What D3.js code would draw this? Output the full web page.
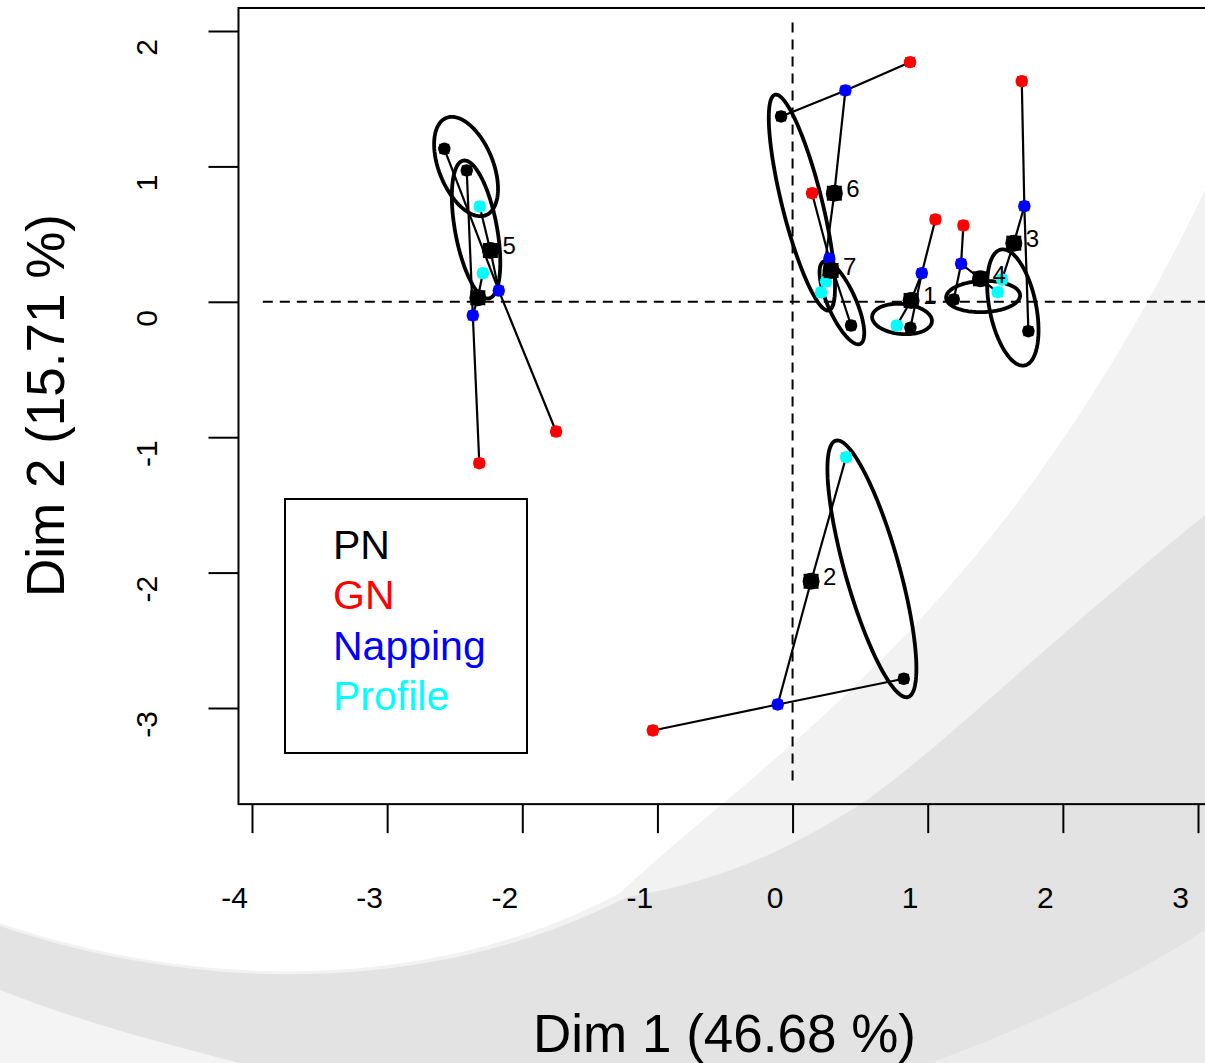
<!DOCTYPE html>
<html>
<head>
<meta charset="UTF-8">
<title>HMFA: partial individuals</title>
<script src="https://cdn.jsdelivr.net/npm/d3@7"></script>
<style>
  body { margin: 0; background: #fff; }
  svg { display: block; font-family: "Liberation Sans", Arial, sans-serif; }
</style>
</head>
<body>
<svg id="chart" width="1205" height="1063"></svg>
<script>
// individuals: mean point and the four partial points (PN, GN, Napping, Profile)
var labels = ["1", "2", "3", "4", "5", "6", "7", ""]
var meanX = [0.877, 0.137, 1.637, 1.390, -2.236, 0.309, 0.285, -2.329]
var meanY = [0.010, -2.064, 0.433, 0.170, 0.379, 0.802, 0.231, 0.030]
var pnX = [0.872, 0.823, 1.745, 1.193, -2.577, -0.085, 0.433, -2.411]
var pnY = [-0.192, -2.784, -0.217, 0.017, 1.130, 1.369, -0.175, 0.970]
var gnX = [1.057, -1.034, 1.696, 1.264, -1.750, 0.869, 0.144, -2.318]
var gnY = [0.608, -3.166, 1.629, 0.564, -0.958, 1.770, 0.802, -1.192]
var napX = [0.956, -0.110, 1.715, 1.247, -2.174, 0.391, 0.272, -2.366]
var napY = [0.211, -2.974, 0.706, 0.281, 0.083, 1.561, 0.318, -0.101]
var proX = [0.771, 0.396, 1.550, 1.518, -2.315, 0.211, 0.248, -2.292]
var proY = [-0.175, -1.148, 0.165, 0.071, 0.704, 0.069, 0.150, 0.211]

// ellipses: centre, semi axes (data units), angle in degrees
var ellCx = [0.810, 0.587, 1.630, 1.410, -2.342, 0.069, 0.365, -2.416]
var ellCy = [-0.127, -1.972, -0.042, 0.039, 0.534, 0.733, -0.007, 0.999]
var ellA = [0.222, 0.984, 0.437, 0.274, 0.518, 0.821, 0.333, 0.388]
var ellB = [0.111, 0.200, 0.172, 0.115, 0.155, 0.148, 0.104, 0.200]
var ellAngle = [-5, -74.25, -78.4, 2, -79.5, -76, -66, -67.7]

var groups = ["PN", "GN", "Napping", "Profile"]
var groupColors = ["#000000", "#FF0000", "#0000FF", "#00FFFF"]

var xTicks = [-4, -3, -2, -1, 0, 1, 2, 3]
var yTicks = [-3, -2, -1, 0, 1, 2]
var boxX = [-4.1, 3.1]
var boxY = [-3.71, 2.17]
var hLineX = [-3.92, 3.6]
var vLineY = [-3.535, 2.09]

var svg = d3.select("#chart")
var x = d3.scaleLinear().domain([-4, 3]).range([252, 1198])
var y = d3.scaleLinear().domain([-3, 2]).range([708, 31])

// slide background swooshes
var bg = svg.append("g")
bg.append("path")
  .attr("d", "M0,923 C150,975 400,1010 620,893 C760,760 1000,620 1205,190 L1205,1063 L0,1063 Z")
  .attr("fill", "#f2f2f2")
bg.append("path")
  .attr("d", "M1205,515 C1050,640 950,740 867,800 C760,870 690,885 625,898 C400,1012 150,978 0,926 L0,1063 L1205,1063 Z")
  .attr("fill", "#e3e3e3")
bg.append("path")
  .attr("d", "M0,990 C90,1025 170,1045 240,1063 L0,1063 Z")
  .attr("fill", "#f4f4f4")
bg.append("path")
  .attr("d", "M1205,930 C1120,985 1020,1030 930,1063 L1205,1063 Z")
  .attr("fill", "#ebebeb")

// plot box
svg.append("rect")
  .attr("x", x(boxX[0])).attr("y", y(boxY[1]))
  .attr("width", x(boxX[1]) - x(boxX[0]))
  .attr("height", y(boxY[0]) - y(boxY[1]))
  .attr("fill", "none").attr("stroke", "#000").attr("stroke-width", 2)

// dashed reference lines
svg.append("line")
  .attr("x1", x(hLineX[0])).attr("x2", x(hLineX[1]))
  .attr("y1", y(0)).attr("y2", y(0))
  .attr("stroke", "#000").attr("stroke-width", 2).attr("stroke-dasharray", "10,7")
svg.append("line")
  .attr("x1", x(0)).attr("x2", x(0))
  .attr("y1", y(vLineY[0])).attr("y2", y(vLineY[1]))
  .attr("stroke", "#000").attr("stroke-width", 2).attr("stroke-dasharray", "10,7")

// segments: mean-Napping, mean-Profile, Napping-PN, Napping-GN
var segs = []
labels.forEach(function (l, i) {
  segs.push([meanX[i], meanY[i], napX[i], napY[i]])
  segs.push([meanX[i], meanY[i], proX[i], proY[i]])
  segs.push([napX[i], napY[i], pnX[i], pnY[i]])
  segs.push([napX[i], napY[i], gnX[i], gnY[i]])
})
svg.append("g").selectAll("line").data(segs).enter().append("line")
  .attr("x1", function (d) { return x(d[0]) })
  .attr("y1", function (d) { return y(d[1]) })
  .attr("x2", function (d) { return x(d[2]) })
  .attr("y2", function (d) { return y(d[3]) })
  .attr("stroke", "#000").attr("stroke-width", 2.2)

// ellipses
function ellipsePath(i) {
  var th = ellAngle[i] * Math.PI / 180
  var pts = d3.range(0, 360, 3).map(function (d) {
    var t = d * Math.PI / 180
    var u = ellA[i] * Math.cos(t), v = ellB[i] * Math.sin(t)
    return [ellCx[i] + u * Math.cos(th) - v * Math.sin(th),
            ellCy[i] + u * Math.sin(th) + v * Math.cos(th)]
  })
  return d3.line()
    .x(function (p) { return x(p[0]) })
    .y(function (p) { return y(p[1]) })
    .curve(d3.curveLinearClosed)(pts)
}
svg.append("g").selectAll("path").data(d3.range(ellCx.length)).enter().append("path")
  .attr("d", ellipsePath)
  .attr("fill", "none").attr("stroke", "#000").attr("stroke-width", 3.8)

// partial points
var partials = []
labels.forEach(function (l, i) {
  partials.push({ x: pnX[i], y: pnY[i], g: 0 })
  partials.push({ x: gnX[i], y: gnY[i], g: 1 })
  partials.push({ x: napX[i], y: napY[i], g: 2 })
  partials.push({ x: proX[i], y: proY[i], g: 3 })
})
function marker(sel, r, s) {
  sel.append("circle").attr("r", r)
  sel.append("rect").attr("x", -s / 2).attr("y", -s / 2).attr("width", s).attr("height", s)
}
var pts = svg.append("g").selectAll("g").data(partials).enter().append("g")
  .attr("transform", function (d) { return "translate(" + x(d.x) + "," + y(d.y) + ")" })
  .attr("fill", function (d) { return groupColors[d.g] })
marker(pts, 6.2, 10)

// mean points and labels
var means = svg.append("g").selectAll("g").data(labels).enter().append("g")
  .attr("transform", function (d, i) { return "translate(" + x(meanX[i]) + "," + y(meanY[i]) + ")" })
  .attr("fill", "#000")
marker(means, 8.5, 15)
means.append("text")
  .attr("x", 12).attr("y", 4)
  .attr("font-size", 24)
  .text(function (d) { return d })

// legend
svg.append("rect")
  .attr("x", 285).attr("y", 499).attr("width", 242).attr("height", 254)
  .attr("fill", "none").attr("stroke", "#000").attr("stroke-width", 2)
svg.append("g").selectAll("text").data(groups).enter().append("text")
  .attr("x", 333)
  .attr("y", function (d, i) { return 559 + i * 50.3 })
  .attr("font-size", 41)
  .attr("fill", function (d, i) { return groupColors[i] })
  .text(function (d) { return d })

// axes
var xAxis = svg.append("g").attr("transform", "translate(0," + y(boxY[0]) + ")")
  .call(d3.axisBottom(x).tickValues(xTicks).tickSize(29).tickFormat(String))
xAxis.attr("font-size", null).attr("font-family", null)
xAxis.select(".domain").remove()
xAxis.selectAll("line").attr("stroke", "#000").attr("stroke-width", 2)
xAxis.selectAll("text")
  .attr("x", -18).attr("y", 104).attr("dy", null)
  .attr("font-size", 30).attr("fill", "#000")

var yAxis = svg.append("g").attr("transform", "translate(" + x(boxX[0]) + ",0)")
  .call(d3.axisLeft(y).tickValues(yTicks).tickSize(30).tickFormat(String))
yAxis.attr("font-size", null).attr("font-family", null)
yAxis.select(".domain").remove()
yAxis.selectAll("line").attr("stroke", "#000").attr("stroke-width", 2)
yAxis.selectAll("text")
  .attr("x", null).attr("dy", null)
  .attr("text-anchor", "middle")
  .attr("transform", "translate(-81,16) rotate(-90)")
  .attr("font-size", 30).attr("fill", "#000")

// axis titles
svg.append("text")
  .attr("x", 724.5).attr("y", 1052)
  .attr("text-anchor", "middle").attr("font-size", 53)
  .text("Dim 1 (46.68 %)")
svg.append("text")
  .attr("transform", "translate(64,405.5) rotate(-90)")
  .attr("text-anchor", "middle").attr("font-size", 53)
  .text("Dim 2 (15.71 %)")
</script>
</body>
</html>
